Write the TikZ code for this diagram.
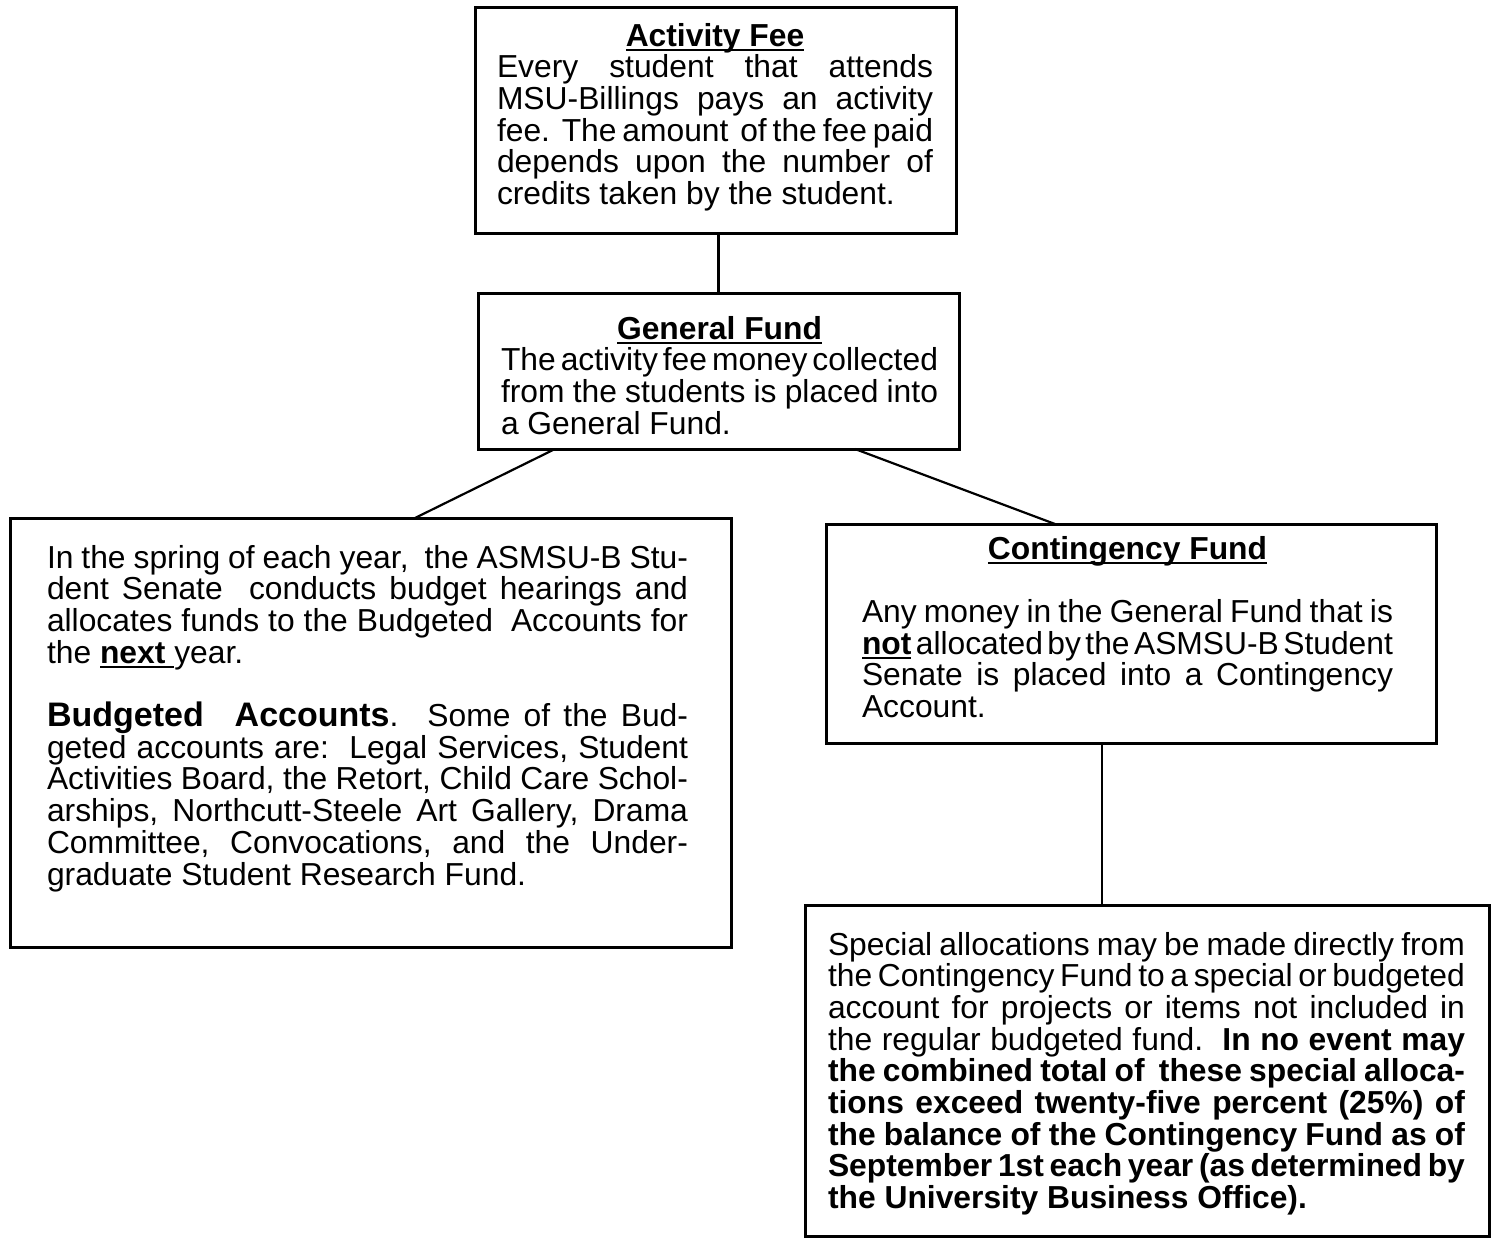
\documentclass[tikz,border=0pt]{standalone}
\usepackage{fontspec}
\setmainfont{Liberation Sans}
\usetikzlibrary{calc}
\newcommand\myul[1]{\setbox0=\hbox{#1}\rlap{\vrule width\wd0 height -0.1em depth 0.165em}\box0\relax}
\newcommand\jl[1]{\hbox to\hsize{#1}}
\newcommand\rl[1]{\hbox{#1}}
\newcommand\cl[1]{\hbox to\hsize{\hfil#1\hfil}}
\newcommand\txtsetup{\fontsize{15.9}{15.85}\selectfont\lineskiplimit=-\maxdimen\lineskip=0pt\frenchspacing\spaceskip=0.278em plus 1fil minus 1fil\relax}
\newcommand\tblock[2]{\vtop{\hsize=#1\txtsetup#2}}
\newcommand\bigb[1]{{\fontsize{17}{15.85}\selectfont\textbf{#1}}}
\tikzset{
  box/.style={draw, line width=1.5pt, inner sep=0pt, outer sep=0pt},
  txt/.style={inner sep=0pt, outer sep=0pt, anchor=base west},
  link/.style={line width=1.1pt},
}
\begin{document}
\begin{tikzpicture}[x=0.5pt,y=-0.5pt]
\useasboundingbox (0,0) rectangle (1496,1239);
\fill[white] (0,0) rectangle (1496,1239);

% boxes
\node[box, minimum width=240.5pt, minimum height=113pt] (af) at (715.5,120) {};
\node[box, minimum width=240.5pt, minimum height=78pt] (gf) at (718.5,371) {};
\node[box, minimum width=360.5pt, minimum height=214.5pt] (lb) at (370.5,732.5) {};
\node[box, minimum width=305pt, minimum height=109.5pt] (cf) at (1131,633.5) {};
\node[box, minimum width=342pt, minimum height=165.5pt] (sp) at (1147,1070.5) {};

% texts
\node[txt] (aft) at (497,46) {\tblock{218pt}{%
\cl{\myul{\textbf{Activity Fee}}}
\jl{Every student that attends}
\jl{MSU-Billings pays an activity}
\jl{fee.\ \ The amount\ \ of the fee paid}
\jl{depends upon the number of}
\rl{credits taken by the student.}}};

\node[txt] (gft) at (501,339) {\tblock{218.5pt}{%
\cl{\myul{\textbf{General Fund}}}
\jl{The activity fee money collected}
\jl{from the students is placed into}
\rl{a General Fund.}}};

\node[txt] (lbt) at (47,568) {\tblock{320.5pt}{%
\jl{In the spring of each year,\ \ the ASMSU-B Stu-}
\jl{dent Senate\ \ conducts budget hearings and}
\jl{allocates funds to the Budgeted\ \ Accounts for}
\rl{the \myul{\textbf{next}\ }year.}
\hbox{}
\jl{\bigb{Budgeted}\hspace{15.5pt}\bigb{Accounts}.\hspace{14.5pt}Some of the Bud-}
\jl{geted accounts are:\ \ Legal Services, Student}
\jl{Activities Board, the Retort, Child Care Schol-}
\jl{arships, Northcutt-Steele Art Gallery, Drama}
\jl{Committee, Convocations, and the Under-}
\rl{graduate Student Research Fund.}}};

\node[txt] (cft) at (862,559) {\tblock{265.5pt}{%
\cl{\myul{\textbf{Contingency Fund}}}
\hbox{}
\jl{Any money in the General Fund that is}
\jl{\myul{\textbf{not}} allocated by the ASMSU-B Student}
\jl{Senate is placed into a Contingency}
\rl{Account.}}};

\node[txt] (spt) at (828,955) {\tblock{318.5pt}{%
\jl{Special allocations may be made directly from}
\jl{the Contingency Fund to a special or budgeted}
\jl{account for projects or items not included in}
\jl{the regular budgeted fund.\ \ \textbf{In no event may}}
\jl{\textbf{the combined total of\ \ these special alloca-}}
\jl{\textbf{tions exceed twenty-five percent (25\%) of}}
\jl{\textbf{the balance of the Contingency Fund as of}}
\jl{\textbf{September 1st each year (as determined by}}
\rl{\textbf{the University Business Office).}}}};

% connectors
\draw[link] (af.south -| gf.north) -- (gf.north);
\draw[link] ($(gf.south west)+(77,0)$) -- ($(lb.north west)+(405,0)$);
\draw[link] ($(gf.south west)+(377,0)$) -- ($(cf.north west)+(229,0)$);
\draw[link] ($(cf.south west)+(276,0)$) -- ($(sp.north west)+(297,0)$);
\end{tikzpicture}
\end{document}
